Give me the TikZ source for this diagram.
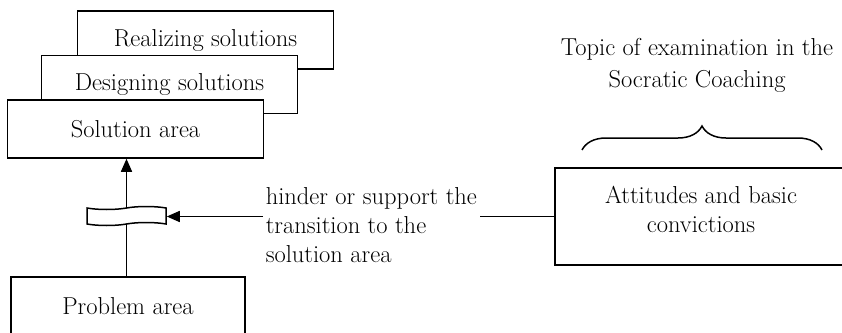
\documentclass[tikz,border=0pt]{standalone}
\usepackage{tikz}
\usetikzlibrary{positioning,arrows.meta,shapes.symbols,decorations.pathreplacing}

\begin{document}
\begin{tikzpicture}[x=1pt, y=-1pt, line width=1.5pt,
    every node/.style={font=\fontsize{24.5}{29}\selectfont},
    area/.style={draw, fill=white, inner sep=0pt, minimum width=256pt, minimum height=58pt},
    tip/.style={-{Triangle[length=13pt, width=11pt]}}]
    \useasboundingbox (0, 0) rectangle (842, 332);

    \node[area] (real) at (205.5, 40) {Realizing solutions};
    \node[area] (design) at (169.5, 84.5) {Designing solutions};
    \node[area] (sol) at (135.5, 129) {Solution area};
    \node[area, minimum width=234pt] (prob) at (128, 306) {Problem area};

    \node[tape, draw, inner sep=0pt, minimum width=79pt, minimum height=19pt, tape bend height=3pt] (wave) at (126.5, 216) {};

    \node[area, minimum width=292pt, minimum height=97pt, align=center] (att) at (701, 216.5) {Attitudes and basic\\convictions\\[-14pt]\mbox{}};
    \node[align=left, anchor=west, inner sep=2pt] (hint) at (263, 225) {hinder or support the\\transition to the\\solution area};
    \node[align=center] (topic) at (697, 65) {Topic of examination in the\\[3pt]Socratic Coaching};

    \coordinate (brL) at (582, 150);
    \coordinate (brR) at (822, 150);
    \draw[decorate, decoration={brace, amplitude=24pt}] (brL) -- (brR);

    \draw[tip] (wave.north) -- (wave.north |- sol.south);
    \draw (prob.north -| wave) -- (wave.south);
    \draw (att.west) -- (att.west -| hint.east);
    \draw[tip] (att.west -| hint.west) -- (att.west -| wave.east);
\end{tikzpicture}
\end{document}
